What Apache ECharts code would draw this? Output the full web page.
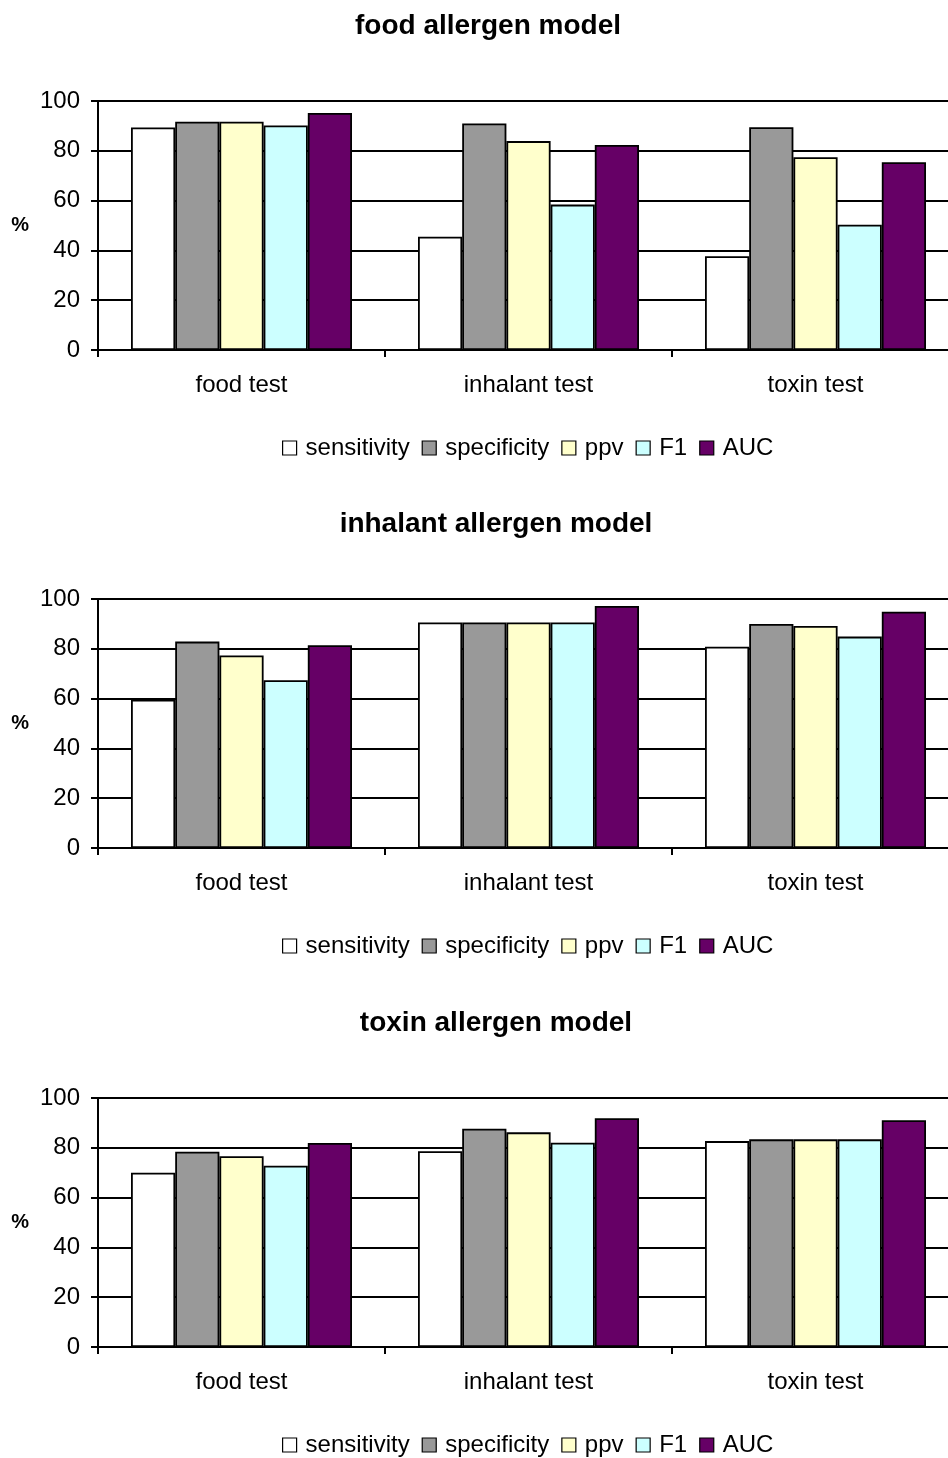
<!DOCTYPE html>
<html>
<head>
<meta charset="utf-8">
<script src="https://cdn.jsdelivr.net/npm/echarts@6/dist/echarts.min.js"></script>
<style>
html,body{margin:0;padding:0;background:#fff;overflow:hidden;width:948px;height:1458px;}
#chart{width:962px;height:1458px;}
</style>
</head>
<body>
<div id="chart"></div>
<script>
const categories = ['food test', 'inhalant test', 'toxin test'];
const seriesNames = ['sensitivity', 'specificity', 'ppv', 'F1', 'AUC'];
const seriesColors = ['#ffffff', '#999999', '#ffffcc', '#ccffff', '#660066'];
const chartTitles = ['food allergen model', 'inhalant allergen model', 'toxin allergen model'];
const yTicks = [0, 20, 40, 60, 80, 100];

// values per model, each series over categories
const foodModel = {
  sensitivity: [89.4, 45.5, 37.7],
  specificity: [91.7, 91.0, 89.5],
  ppv:         [91.7, 83.9, 77.4],
  F1:          [90.2, 58.4, 50.3],
  AUC:         [95.2, 82.3, 75.4]
};
const inhalantModel = {
  sensitivity: [59.6, 90.6, 80.8],
  specificity: [82.9, 90.6, 90.0],
  ppv:         [77.3, 90.6, 89.2],
  F1:          [67.4, 90.6, 84.9],
  AUC:         [81.4, 97.2, 94.9]
};
const toxinModel = {
  sensitivity: [70.0, 78.6, 82.7],
  specificity: [78.4, 87.7, 83.4],
  ppv:         [76.6, 86.2, 83.4],
  F1:          [72.8, 82.0, 83.4],
  AUC:         [81.9, 91.9, 91.1]
};
const models = [foodModel, inhalantModel, toxinModel];

const FONT = '"Liberation Sans", Arial, sans-serif';
const gridTops = [101, 599, 1098];
const gridH = 249;

const option = {
  animation: false,
  backgroundColor: '#ffffff',
  textStyle: { fontFamily: FONT },
  title: [], legend: [], grid: [], xAxis: [], yAxis: [], series: []
};

models.forEach((m, gi) => {
  const top = gridTops[gi];
  option.title.push({
    text: chartTitles[gi],
    left: gi === 0 ? 483 : 491,
    textAlign: 'center',
    top: top - 94,
    textStyle: { fontFamily: FONT, fontSize: 28, fontWeight: 'bold', color: '#000' }
  });
  option.grid.push({ left: 98, top: top, width: 861, height: gridH });
  option.xAxis.push({
    type: 'category', gridIndex: gi, data: categories,
    axisLine: { lineStyle: { color: '#000', width: 2 } },
    axisTick: { show: true, length: 7, lineStyle: { color: '#000', width: 2 } },
    axisLabel: { color: '#000', fontSize: 24, fontFamily: FONT, margin: 23 }
  });
  option.yAxis.push({
    type: 'value', gridIndex: gi, min: 0, max: 100, interval: 20,
    name: '%', nameLocation: 'middle', nameRotate: 0, nameGap: 69,
    nameTextStyle: { color: '#000', fontSize: 20, fontWeight: 'bold', fontFamily: FONT },
    axisLine: { show: true, lineStyle: { color: '#000', width: 2 } },
    axisTick: { show: true, length: 7, lineStyle: { color: '#000', width: 2 } },
    axisLabel: { color: '#000', fontSize: 24, fontFamily: FONT, margin: 18,
      formatter: v => (yTicks.indexOf(v) >= 0 ? String(v) : '') },
    splitLine: { show: true, lineStyle: { color: '#000', width: 2 } }
  });
  option.legend.push({
    data: seriesNames,
    left: 282,
    top: top + 335,
    padding: 0,
    itemWidth: 14, itemHeight: 14, itemGap: 12,
    icon: 'rect',
    textStyle: { color: '#000', fontSize: 24, fontFamily: FONT, padding: [0, 0, 0, 4] },
    itemStyle: { borderColor: '#000', borderWidth: 1.2 }
  });
  seriesNames.forEach((name, si) => {
    option.series.push({
      name: name, type: 'bar', xAxisIndex: gi, yAxisIndex: gi,
      data: m[name],
      barGap: '0%', barCategoryGap: '23%',
      itemStyle: { color: seriesColors[si], borderColor: '#000', borderWidth: 1.8 }
    });
  });
});

const chart = echarts.init(document.getElementById('chart'), null, { renderer: 'canvas' });
chart.setOption(option);
</script>
</body>
</html>
